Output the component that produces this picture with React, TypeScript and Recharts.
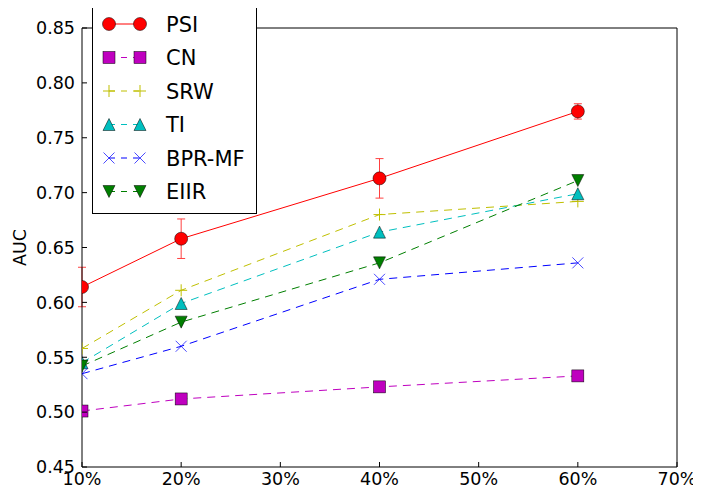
import React from 'react';
import { LineChart, Line, XAxis, YAxis, ErrorBar, Legend } from 'recharts';

// ---- data ----
const xPercents = [10, 20, 40, 60];
const psi = [0.614, 0.658, 0.713, 0.774];
const psiErr = [0.018, 0.018, 0.018, 0.007];
const cn = [0.501, 0.512, 0.523, 0.533];
const srw = [0.558, 0.611, 0.680, 0.692];
const ti = [0.545, 0.599, 0.664, 0.699];
const bprmf = [0.535, 0.560, 0.621, 0.636];
const eiir = [0.542, 0.582, 0.636, 0.711];

const seriesNames = ['PSI', 'CN', 'SRW', 'TI', 'BPR-MF', 'EIIR'];
const seriesColors = ['#ff0000', '#bf00bf', '#bfbf00', '#00bfbf', '#0000ff', '#007f00'];
const seriesMarkers = ['circle', 'square', 'plus', 'triangleUp', 'cross', 'triangleDown'];
const seriesValues = [psi, cn, srw, ti, bprmf, eiir];

const xTicks = [10, 20, 30, 40, 50, 60, 70];
const yTicks = [0.45, 0.5, 0.55, 0.6, 0.65, 0.7, 0.75, 0.8, 0.85];
const yLabel = 'AUC';

const data = xPercents.map((x, i) => {
  const row: any = { x, psiErr: psiErr[i] };
  seriesNames.forEach((n, k) => { row[n] = seriesValues[k][i]; });
  return row;
});

// ---- layout ----
const W = 693;
const H = 485;
const PL = 74;
const PR = 669;
const PT = 20;
const PB = 459;
const FONT = 'DejaVu Sans';

function Marker({ shape, cx, cy, color }: any) {
  const r = 6;
  switch (shape) {
    case 'circle':
      return <circle cx={cx} cy={cy} r={6.5} fill={color} stroke="#000" strokeWidth={0.5} />;
    case 'square':
      return <rect x={cx - r} y={cy - r} width={2 * r} height={2 * r} fill={color} stroke="#000" strokeWidth={0.5} />;
    case 'plus':
      return (
        <g stroke={color} strokeWidth={1}>
          <line x1={cx - r} x2={cx + r} y1={cy} y2={cy} />
          <line x1={cx} x2={cx} y1={cy - r} y2={cy + r} />
        </g>
      );
    case 'cross':
      return (
        <g stroke={color} strokeWidth={1} opacity={0.7}>
          <line x1={cx - 5.5} x2={cx + 5.5} y1={cy - 5.5} y2={cy + 5.5} />
          <line x1={cx - 5.5} x2={cx + 5.5} y1={cy + 5.5} y2={cy - 5.5} />
        </g>
      );
    case 'triangleUp':
      return <path d={`M${cx},${cy - r}L${cx - r},${cy + r}L${cx + r},${cy + r}Z`} fill={color} stroke="#000" strokeWidth={0.5} />;
    case 'triangleDown':
      return <path d={`M${cx},${cy + r}L${cx - r},${cy - r}L${cx + r},${cy - r}Z`} fill={color} stroke="#000" strokeWidth={0.5} />;
    default:
      return null;
  }
}

const makeDot = (k: number) => (p: any) => {
  if (p.cx == null || p.cy == null) return <g key={`d-${k}-${p.index}`} />;
  return (
    <g key={`d-${k}-${p.index}`}>
      <Marker shape={seriesMarkers[k]} cx={p.cx} cy={p.cy} color={seriesColors[k]} />
    </g>
  );
};

const textStyle = { fontFamily: FONT, fontSize: 17.5, fill: '#000' };

const LeftTick = (p: any) => {
  const y = p.payload.coordinate;
  return (
    <g>
      <line x1={PL} x2={PL + 5} y1={y} y2={y} stroke="#000" />
      <text x={PL - 7} y={y} dy="0.36em" textAnchor="end" style={textStyle}>
        {Number(p.payload.value).toFixed(2)}
      </text>
    </g>
  );
};
const RightTick = (p: any) => {
  const y = p.payload.coordinate;
  return <line x1={PR - 5} x2={PR} y1={y} y2={y} stroke="#000" />;
};
const BottomTick = (p: any) => {
  const x = p.payload.coordinate;
  return (
    <g>
      <line x1={x} x2={x} y1={PB - 5} y2={PB} stroke="#000" />
      <text x={x} y={PB + 18} textAnchor="middle" style={textStyle}>
        {`${p.payload.value}%`}
      </text>
    </g>
  );
};
const TopTick = (p: any) => {
  const x = p.payload.coordinate;
  return <line x1={x} x2={x} y1={PT} y2={PT + 5} stroke="#000" />;
};

const YTitle = (p: any) => {
  const vb = p.viewBox || { y: PT, height: PB - PT };
  const cy = vb.y + vb.height / 2;
  return (
    <text x={12} y={cy} dy="0.36em" textAnchor="middle" transform={`rotate(-90 12 ${cy})`} style={textStyle}>
      {yLabel}
    </text>
  );
};

const renderLegend = () => (
  <svg width={166} height={210} style={{ display: 'block' }}>
    <rect x={0.5} y={0.5} width={164} height={208} fill="#fff" stroke="#000" strokeWidth={1} />
    {seriesNames.map((name, i) => {
      const cy = 19 + i * 33.5;
      const color = seriesColors[i];
      return (
        <g key={name}>
          <line x1={17} x2={48} y1={cy} y2={cy} stroke={color} strokeWidth={1}
            strokeDasharray={i === 0 ? undefined : '6 6'} />
          <Marker shape={seriesMarkers[i]} cx={17} cy={cy} color={color} />
          <Marker shape={seriesMarkers[i]} cx={48} cy={cy} color={color} />
          <text x={74} y={cy} dy="0.36em" style={{ fontFamily: FONT, fontSize: 21, fill: '#000' }}>{name}</text>
        </g>
      );
    })}
  </svg>
);

export default function App() {
  return (
    <div style={{ width: W, height: H, fontFamily: FONT, position: 'relative' }}>
      <LineChart width={W} height={H} data={data} margin={{ top: PT - 1, right: W - PR - 1, bottom: 0, left: 0 }}>
        <XAxis dataKey="x" type="number" domain={[10, 70]} ticks={xTicks} interval={0}
          allowDataOverflow height={H - PB} axisLine={{ stroke: '#000' }} tickLine={false} tick={<BottomTick />} />
        <XAxis xAxisId="top" orientation="top" type="number" domain={[10, 70]} ticks={xTicks} interval={0}
          height={1} axisLine={{ stroke: '#000' }} tickLine={false} tick={<TopTick />} />
        <YAxis type="number" domain={[0.45, 0.85]} ticks={yTicks} interval={0} allowDataOverflow
          width={PL} axisLine={{ stroke: '#000' }} tickLine={false} tick={<LeftTick />}
          label={{ value: yLabel, content: (p: any) => <YTitle {...p} /> }} />
        <YAxis yAxisId="right" orientation="right" type="number" domain={[0.45, 0.85]} ticks={yTicks} interval={0}
          width={1} axisLine={{ stroke: '#000' }} tickLine={false} tick={<RightTick />} />
        {seriesNames.map((name, k) => (
          <Line key={name} dataKey={name} stroke={seriesColors[k]} strokeWidth={1}
            strokeDasharray={k === 0 ? undefined : '8 6'} isAnimationActive={false}
            dot={makeDot(k)} activeDot={false} legendType="none">
            {k === 0 ? (
              <ErrorBar dataKey="psiErr" direction="y" width={4} stroke="#ff4040" strokeWidth={1} isAnimationActive={false} />
            ) : null}
          </Line>
        ))}
        <Legend layout="vertical" align="center" verticalAlign="middle" content={renderLegend}
          wrapperStyle={{ position: 'absolute', left: 84, top: -3, width: 166, height: 210 }} />
      </LineChart>
    </div>
  );
}
